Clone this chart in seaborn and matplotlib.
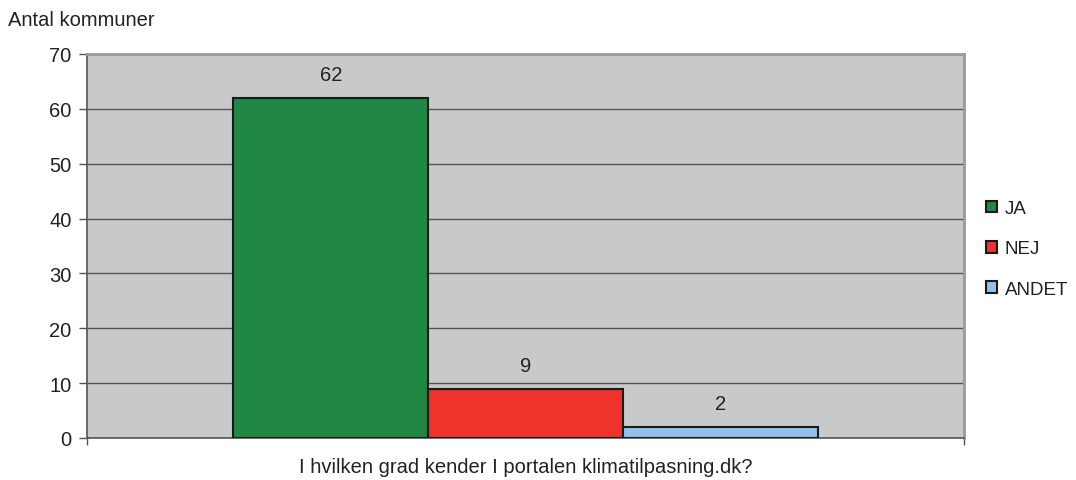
import pandas as pd
import matplotlib.pyplot as plt
import seaborn as sns
from matplotlib.patches import Patch

# Data
question = "I hvilken grad kender I portalen klimatilpasning.dk?"
answers = ["JA", "NEJ", "ANDET"]
counts = [62, 9, 2]
colors = ["#208844", "#EF322B", "#92C1E9"]

df = pd.DataFrame({"question": [question] * len(answers),
                   "answer": answers,
                   "count": counts})

sns.set_style("white")
plt.rcParams["font.family"] = ["Liberation Sans", "DejaVu Sans"]
FS = 14.5
TXT = "#222222"

fig = plt.figure(figsize=(10.76, 4.81), dpi=100)
ax = fig.add_axes([87 / 1076, 1 - 439 / 481, (964 - 87) / 1076, (439 - 55) / 481])
ax.set_facecolor("#C8C9CB")

sns.barplot(data=df, x="question", y="count", hue="answer", hue_order=answers,
            palette=colors, width=0.666, edgecolor="#1a1a1a", linewidth=1.5,
            saturation=1, legend=False, ax=ax, zorder=3)

for cont in ax.containers:
    ax.bar_label(cont, padding=10, fontsize=FS, color=TXT)

# axes styling
ax.set_ylim(0, 70)
ax.set_yticks(range(0, 71, 10))
ax.set_xlim(-0.5, 0.5)
ax.set_xticks([-0.5, 0.5])
ax.set_xticklabels(["", ""])
ax.yaxis.grid(True, color="#555555", linewidth=1, zorder=1)
ax.set_axisbelow(True)
ax.tick_params(axis="y", direction="out", length=6, width=1, color="#555555",
               labelsize=FS, labelcolor=TXT, left=True, pad=5)
ax.tick_params(axis="x", direction="out", length=5, width=1, color="#555555",
               bottom=True, pad=0)
for s in ["left", "bottom"]:
    ax.spines[s].set_color("#555555")
    ax.spines[s].set_linewidth(1.2)
for s in ["top", "right"]:
    ax.spines[s].set_color("#9A9A9A")
    ax.spines[s].set_linewidth(2)

ax.set_ylabel("")
ax.set_xlabel(question, fontsize=FS, color=TXT, labelpad=9)
fig.text(8 / 1076, 1 - 20 / 481, "Antal kommuner", fontsize=FS, color=TXT,
         va="center", ha="left")

# legend
handles = [Patch(facecolor=c, edgecolor="#1a1a1a", linewidth=1.5) for c in colors]
leg = fig.legend(handles, answers, loc="center left", bbox_to_anchor=(973 / 1076, 1 - 250 / 481),
                 frameon=False, fontsize=13.5, handlelength=0.6, handleheight=0.6,
                 handletextpad=0.4, labelspacing=1.25, borderpad=0.2)
for t in leg.get_texts():
    t.set_color(TXT)

fig.savefig("out.png", dpi=100)
